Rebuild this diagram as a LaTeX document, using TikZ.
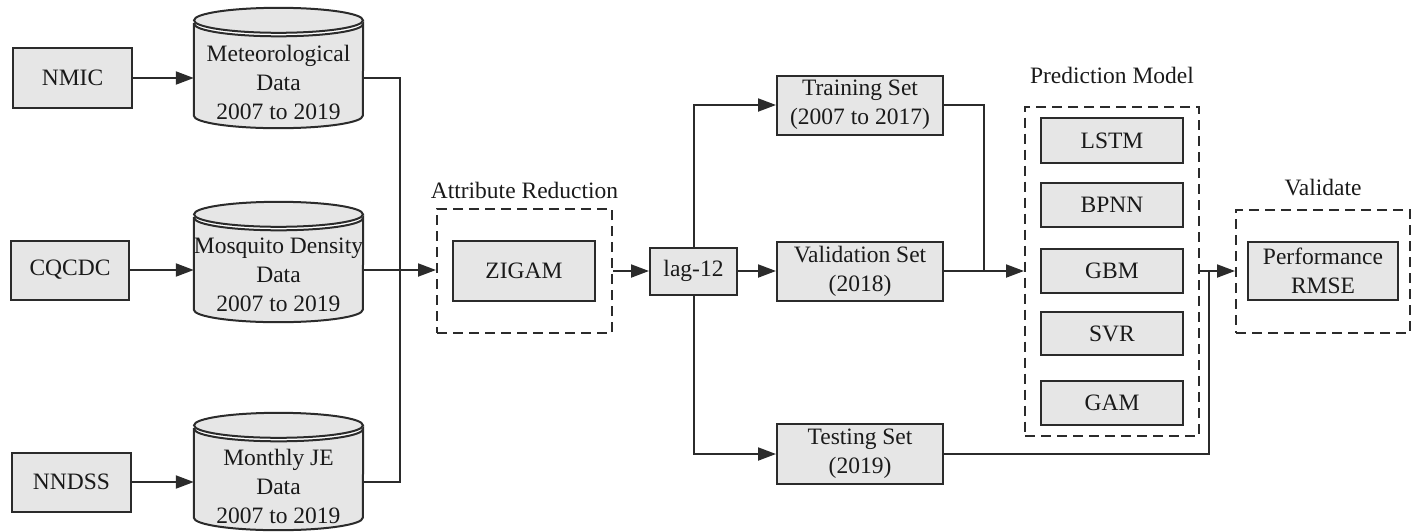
\documentclass[tikz,border=0pt]{standalone}
\usepackage{fontspec}
\setmainfont{Liberation Serif}[Ligatures=TeX]
\newfontfamily\timesfam{Liberation Serif}
\usetikzlibrary{arrows.meta,calc}
\definecolor{boxfill}{HTML}{E6E6E6}
\definecolor{ink}{HTML}{2B2B2B}
\definecolor{textc}{HTML}{1A1A1A}
% cylinder outline drawn round an empty named node
\newcommand\drawcyl[1]{%
  \path[draw=ink, fill=boxfill, line width=2pt]
    ($(#1.north west)+(0,16)$) -- ($(#1.south west)+(0,-12.5)$)
    arc[start angle=180,end angle=360,x radius=84.5pt,y radius=12.5pt]
    -- ($(#1.north east)+(0,16)$)
    arc[start angle=0,end angle=-180,x radius=84.5pt,y radius=12.5pt] -- cycle;
  \path[draw=ink, fill=boxfill, line width=2pt]
    ($(#1.north)+(0,12.5)$) ellipse[x radius=84.5pt,y radius=12.5pt];
}
\begin{document}
\begin{tikzpicture}[x=1pt,y=-1pt,
  every node/.style={font=\timesfam\fontsize{23.5}{29}\selectfont, text=textc, inner sep=0pt, align=center},
  box/.style={draw=ink, fill=boxfill, line width=2pt},
  cylnode/.style={minimum width=169pt},
  grp/.style={draw=ink, dash pattern=on 10pt off 6pt, line width=2pt},
  link/.style={draw=ink, line width=2pt},
  arr/.style={link, -{Triangle[length=18pt,width=13pt]}}]
\useasboundingbox (0,0) rectangle (1416,531);

% sources
\node[box, minimum width=119pt, minimum height=60pt] (nmic)  at (72.5,78)  {NMIC};
\node[box, minimum width=118pt, minimum height=59pt] (cqcdc) at (70,270) {CQCDC};
\node[box, minimum width=119pt, minimum height=59pt] (nndss) at (71.5,482) {NNDSS};

% data stores
\node[cylnode, minimum height=120pt] (met) at (278.5,68) {};
\node[cylnode, minimum height=120pt] (mos) at (278.5,262) {};
\node[cylnode, minimum height=117pt] (je)  at (278.5,471.5) {};
\drawcyl{met}\drawcyl{mos}\drawcyl{je}
\node (met-t) at (278.5,82)  {Meteorological\\Data\\2007 to 2019};
\node (mos-t) at (278.5,275) {Mosquito Density\\Data\\2007 to 2019};
\node (je-t)  at (278.5,486) {Monthly JE\\Data\\2007 to 2019};

% attribute reduction
\node[grp, minimum width=175pt, minimum height=124pt] (ar) at (524.5,271) {};
\node (ar-l) at (524.5,190) {Attribute Reduction};
\node[box, minimum width=142pt, minimum height=60pt] (zigam) at (524,271) {ZIGAM};
\node[box, minimum width=87pt, minimum height=47pt] (lag) at (693.5,271) {lag-12};

% data split
\node[box, minimum width=166pt, minimum height=59pt] (train) at (860,105) {Training Set\\(2007 to 2017)};
\node[box, minimum width=166pt, minimum height=59pt] (val)   at (860,271)   {Validation Set\\(2018)};
\node[box, minimum width=166pt, minimum height=60pt] (test)  at (860,454)   {Testing Set\\(2019)};

% prediction models
\node[grp, minimum width=174pt, minimum height=329pt] (pm) at (1112,271) {};
\node (pm-l) at (1112,75) {Prediction Model};
\node[box, minimum width=142pt, minimum height=45pt] (lstm) at (1112,140.5) {LSTM};
\node[box, minimum width=142pt, minimum height=44pt] (bpnn) at (1112,205)   {BPNN};
\node[box, minimum width=142pt, minimum height=44pt] (gbm)  at (1112,271)   {GBM};
\node[box, minimum width=142pt, minimum height=43pt] (svr)  at (1112,333.5) {SVR};
\node[box, minimum width=142pt, minimum height=44pt] (gam)  at (1112,403)   {GAM};

% validation
\node[grp, minimum width=174pt, minimum height=123pt] (vd) at (1323,271.5) {};
\node (vd-l) at (1323,188) {Validate};
\node[box, minimum width=150pt, minimum height=58pt] (perf) at (1323,271) {Performance\\RMSE};

% junction points
\coordinate (bus) at (400,270);
\coordinate (j1) at (984,271);
\coordinate (j2) at (1209,271);

% connectors
\draw[arr] (nmic.east) -- (nmic.east -| met.west);
\draw[arr] (cqcdc.east) -- (cqcdc.east -| mos.west);
\draw[arr] (nndss.east) -- (nndss.east -| je.west);
\draw[link] (nmic.east -| met.east) -| (bus) |- (nndss.east -| je.east);
\draw[arr] (cqcdc.east -| mos.east) -- (cqcdc.east -| ar.west);
\draw[arr] (ar.east) -- (lag.west);
\draw[arr] (lag.north) |- (train.west);
\draw[arr] (lag.east) -- (val.west);
\draw[arr] (lag.south) |- (test.west);
\draw[link] (train.east) -| (j1);
\draw[arr] (val.east) -- (val.east -| pm.west);
\draw[arr] (pm.east) -- (pm.east -| vd.west);
\draw[link] (test.east) -| (j2);
\end{tikzpicture}
\end{document}
